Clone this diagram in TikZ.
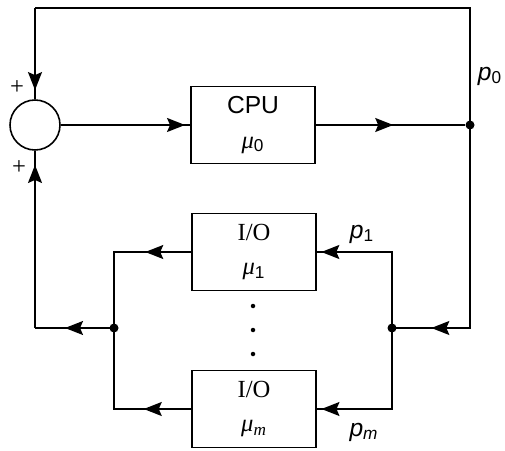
\documentclass[tikz,border=0pt]{standalone}
\usepackage{fontspec}
\setmainfont{Liberation Serif}
\setsansfont{Liberation Sans}
\usepackage{tikz}
\usetikzlibrary{arrows.meta,decorations.markings}
\newcommand{\plab}[1]{\textsf{\textit{p}}\textsubscript{\textsf{#1}}}
\newcommand{\mulab}[1]{\textit{μ}\textsubscript{#1}}

\begin{document}
\begin{tikzpicture}[x=0.2mm,y=-0.2mm,line width=0.9pt,
  box/.style={draw,line width=0.9pt,minimum width=24.8mm,minimum height=15.4mm,
              align=center,font=\fontsize{14}{16}\selectfont},
  arr/.style={postaction={decorate,decoration={markings,
              mark=at position #1 with {\arrow{Stealth[length=3.6mm,width=2.8mm,inset=0.6mm]}}}}},
  dot/.style={circle,fill,inner sep=0pt,minimum size=1.8mm},
  vdot/.style={circle,fill,inner sep=0pt,minimum size=0.9mm},
  lab/.style={font=\fontsize{14}{16}\selectfont}]
  \useasboundingbox (0,0) rectangle (505,450);
  % blocks
  \node[draw,circle,minimum size=10mm,inner sep=0pt] (sum) at (35,125) {};
  \node[box] (cpu) at (253,125) {\sffamily CPU\\[1.2mm]\mulab{\textsf{0}}};
  \node[box] (io1) at (254,252) {I/O\\[1.2mm]\mulab{\textsf{1}}};
  \node[box] (iom) at (254,409) {I/O\\[1.2mm]\mulab{\textit{m}}};
  % branch points
  \node[dot] (jcpu) at (470,125) {};
  \node[dot] (jr) at (392,328) {};
  \node[dot] (jl) at (114,328) {};
  \coordinate (tl) at (35,8);
  \coordinate (br) at (470,328);
  \coordinate (bl) at (35,328);
  % connectors
  \draw[arr=0.96] (sum.east) -- (cpu.west);
  \draw[arr=0.52] (cpu.east) -- (jcpu);
  \draw (jcpu.center) |- (tl);
  \draw[arr=0.9] (tl) -- (sum.north);
  \draw[arr=0.86] (jcpu.center) -- (br) -- (jr.center);
  \draw[arr=0.97] (jr.center) |- (io1.east);
  \draw[arr=0.97] (jr.center) |- (iom.east);
  \draw[arr=0.3] (io1.west) -| (jl.center);
  \draw[arr=0.3] (iom.west) -| (jl.center);
  \draw[arr=0.62] (jl.center) -- (bl);
  \draw[arr=0.92] (bl) -- (sum.south);
  % labels
  \node[lab] (plus1) at (17,88) {+};
  \node[lab] (plus2) at (19,168) {+};
  \node[lab] (p0) at (490,76) {\plab{0}};
  \node[lab] (p1) at (362,234) {\plab{1}};
  \node[lab] (pm) at (364,432) {\plab{\textit{m}}};
  \node[vdot] (vd1) at (253,306) {};
  \node[vdot] (vd2) at (253,330) {};
  \node[vdot] (vd3) at (253,354) {};
\end{tikzpicture}
\end{document}
